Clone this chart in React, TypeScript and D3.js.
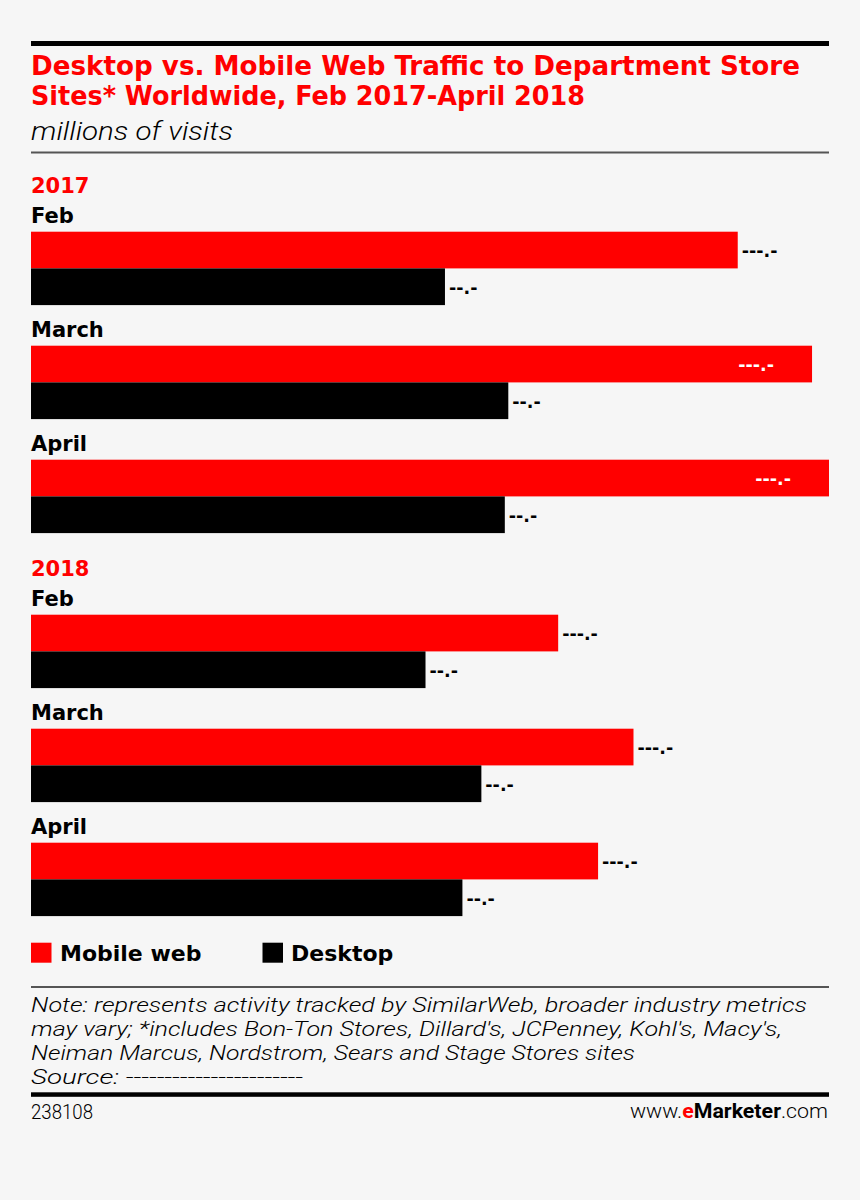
import React from 'react';
import * as d3 from 'd3';

// ---- data ----
const periodYears = ['2017', '2017', '2017', '2018', '2018', '2018'];
const periodMonths = ['Feb', 'March', 'April', 'Feb', 'March', 'April'];
const mobileWeb = [141.7, 156.6, 160.0, 105.7, 120.8, 113.7];
const desktop = [83.0, 95.7, 95.0, 79.1, 90.3, 86.5];
const mobileLabels = ['---.-', '---.-', '---.-', '---.-', '---.-', '---.-'];
const desktopLabels = ['--.-', '--.-', '--.-', '--.-', '--.-', '--.-'];
const seriesNames = ['Mobile web', 'Desktop'];
const titleLines = [
  'Desktop vs. Mobile Web Traffic to Department Store',
  'Sites* Worldwide, Feb 2017-April 2018',
];
const subtitle = 'millions of visits';
const noteLines = [
  'Note: represents activity tracked by SimilarWeb, broader industry metrics',
  "may vary; *includes Bon-Ton Stores, Dillard's, JCPenney, Kohl's, Macy's,",
  'Neiman Marcus, Nordstrom, Sears and Stage Stores sites',
  'Source: -----------------------',
];
const chartId = '238108';

// ---- style ----
const RED = '#ff0000';
const BG = '#f6f6f6';
const BOLD = "'DejaVu Sans', sans-serif";
const COND = "'DejaVu Sans Condensed', 'DejaVu Sans', sans-serif";
const LIGHT = "Roboto, 'Open Sans', sans-serif";

const W = 860;
const H = 1200;
const L = 31;
const R = 829;

export default function App() {
  const x = d3.scaleLinear().domain([0, d3.max(mobileWeb) as number]).range([L, R]);
  const yearList = Array.from(new Set(periodYears));
  const barH = 36.7;
  const rowStep = 114;
  const yearGap = 41;
  const firstTop = 231.7;
  const rowTop = (i: number) => firstTop + i * rowStep + yearList.indexOf(periodYears[i]) * yearGap;
  const labelW = (s: string) => s.length * 7;

  const noteWidths = [776, 751, 604, 272];
  const titleWidths = [769, 554];

  return (
    <svg width={W} height={H} style={{ position: 'absolute', left: 0, top: 0, background: BG }}>
      <rect x={0} y={0} width={W} height={H} fill={BG} />
      {/* top rule */}
      <rect x={L} y={41} width={R - L} height={5} fill="#000" />
      {titleLines.map((t, i) => (
        <text key={t} x={L} y={75 + i * 30} fill={RED} fontFamily={COND} fontStretch="condensed" fontWeight={700} fontSize={26.5}
          textLength={titleWidths[i]} lengthAdjust="spacingAndGlyphs">{t}</text>
      ))}
      <text x={L} y={140} fill="#000" fontFamily={LIGHT} fontStyle="italic" fontWeight={300} fontSize={26.5}
        textLength={202} lengthAdjust="spacingAndGlyphs">{subtitle}</text>
      <rect x={L} y={151.5} width={R - L} height={2} fill="#555" />

      {/* year labels */}
      {yearList.map((yr) => {
        const first = periodYears.indexOf(yr);
        return (
          <text key={yr} x={L} y={rowTop(first) - 38.4} fill={RED} fontFamily={BOLD} fontWeight={700} fontSize={21}>{yr}</text>
        );
      })}

      {periodMonths.map((m, i) => {
        const top = rowTop(i);
        const mx = x(mobileWeb[i]);
        const dx = x(desktop[i]);
        const mInside = mx + 5 + labelW(mobileLabels[i]) > R;
        const dInside = dx + 5 + labelW(desktopLabels[i]) > R;
        return (
          <g key={i}>
            <text x={L} y={top - 8.4} fill="#000" fontFamily={BOLD} fontWeight={700} fontSize={21}>{m}</text>
            <rect x={L} y={top} width={mx - L} height={barH} fill={RED} />
            <rect x={L} y={top + barH} width={dx - L} height={barH} fill="#000" />
            <text x={mInside ? mx - 38 : mx + 4} y={top + barH / 2 + 7} textAnchor={mInside ? 'end' : 'start'}
              fill={mInside ? '#fff' : '#000'} fontFamily={BOLD} fontWeight={700} fontSize={17.5}>{mobileLabels[i]}</text>
            <text x={dInside ? dx - 38 : dx + 4} y={top + barH * 1.5 + 7} textAnchor={dInside ? 'end' : 'start'}
              fill={dInside ? '#fff' : '#000'} fontFamily={BOLD} fontWeight={700} fontSize={17.5}>{desktopLabels[i]}</text>
          </g>
        );
      })}

      {/* legend */}
      <rect x={L} y={942.7} width={20.5} height={20} fill={RED} />
      <text x={60} y={961} fill="#000" fontFamily={BOLD} fontWeight={700} fontSize={22}>{seriesNames[0]}</text>
      <rect x={262.5} y={942.7} width={20.5} height={20} fill="#000" />
      <text x={291} y={961} fill="#000" fontFamily={BOLD} fontWeight={700} fontSize={22}>{seriesNames[1]}</text>

      <rect x={L} y={986} width={R - L} height={2} fill="#555" />
      {noteLines.map((t, i) => (
        <text key={i} x={L} y={1011.7 + i * 24.2} fill="#000" fontFamily={LIGHT} fontStyle="italic" fontWeight={300} fontSize={20.5}
          textLength={noteWidths[i]} lengthAdjust="spacingAndGlyphs">{t}</text>
      ))}
      <rect x={L} y={1092.3} width={R - L} height={4.5} fill="#000" />
      <text x={L} y={1119} fill="#000" fontFamily={LIGHT} fontWeight={300} fontSize={20}
        textLength={62} lengthAdjust="spacingAndGlyphs">{chartId}</text>
      <text x={630} y={1118} fill="#000" fontFamily={LIGHT} fontSize={20}
        textLength={198} lengthAdjust="spacingAndGlyphs">
        <tspan fontWeight={300}>www.</tspan>
        <tspan fontWeight={700} fill={RED}>e</tspan>
        <tspan fontWeight={700}>Marketer</tspan>
        <tspan fontWeight={300}>.com</tspan>
      </text>
    </svg>
  );
}
